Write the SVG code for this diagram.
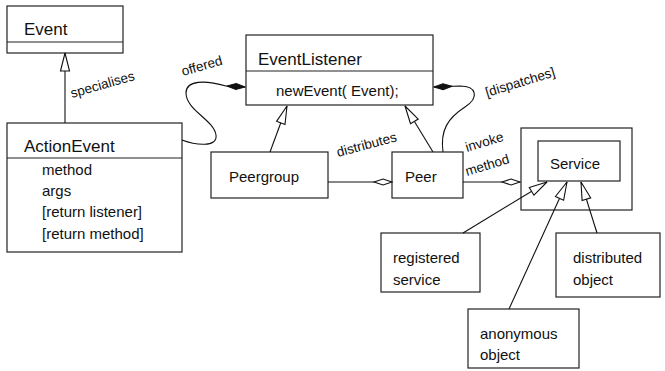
<svg xmlns="http://www.w3.org/2000/svg" width="665" height="371" viewBox="0 0 665 371">
  <style>
    .box { fill: #fff; stroke: #222; stroke-width: 1.2; }
    .frame { fill: none; stroke: #222; stroke-width: 1.2; }
    .div { stroke: #222; stroke-width: 1.2; }
    .edge { fill: none; stroke: #111; stroke-width: 1.1; }
    text { font-family: "Liberation Sans", Arial, sans-serif; fill: #111; }
    .title { font-size: 17px; }
    .attr { font-size: 15px; }
    .lbl { font-size: 13.5px; }
  </style>
  <defs>
    <marker id="gen" markerUnits="userSpaceOnUse" markerWidth="20" markerHeight="12" viewBox="0 0 20 12" refX="19" refY="6" orient="auto">
      <path d="M1,1.5 L19,6 L1,10.5 Z" fill="#fff" stroke="#111" stroke-width="1.1"/>
    </marker>
    <marker id="agg" markerUnits="userSpaceOnUse" markerWidth="20" markerHeight="10" viewBox="0 0 20 10" refX="19" refY="5" orient="auto">
      <path d="M1,5 L10,2 L19,5 L10,8 Z" fill="#fff" stroke="#111" stroke-width="1.1"/>
    </marker>
    <marker id="comp" markerUnits="userSpaceOnUse" markerWidth="20" markerHeight="10" viewBox="0 0 20 10" refX="19" refY="5" orient="auto">
      <path d="M1,5 L10,2 L19,5 L10,8 Z" fill="#111" stroke="#111" stroke-width="1"/>
    </marker>
  </defs>

  <g id="event">
    <rect class="box" x="7" y="6" width="116" height="47"/>
    <line class="div" x1="7" y1="42" x2="123" y2="42"/>
    <text class="title" x="24" y="35">Event</text>
  </g>

  <g id="action-event">
    <rect class="box" x="7" y="123" width="175" height="129"/>
    <line class="div" x1="7" y1="158" x2="182" y2="158"/>
    <text class="title" x="24" y="152">ActionEvent</text>
    <text class="attr" x="42" y="175">method</text>
    <text class="attr" x="42" y="196">args</text>
    <text class="attr" x="42" y="217">[return listener]</text>
    <text class="attr" x="42" y="239">[return method]</text>
  </g>

  <g id="event-listener">
    <rect class="box" x="246" y="35" width="187" height="70"/>
    <line class="div" x1="246" y1="71" x2="433" y2="71"/>
    <text class="title" x="258" y="65">EventListener</text>
    <text class="attr" x="276" y="96">newEvent( Event);</text>
  </g>

  <g id="peergroup">
    <rect class="box" x="211" y="152" width="117" height="46"/>
    <text class="attr" x="229" y="182">Peergroup</text>
  </g>

  <g id="peer">
    <rect class="box" x="392" y="152" width="71" height="46"/>
    <text class="attr" x="405" y="182">Peer</text>
  </g>

  <!-- outer frame is open so the generalisations can reach the inner class -->
  <g id="service">
    <rect class="frame" x="521" y="128" width="111" height="82"/>
    <rect class="box" x="538" y="141" width="82" height="40"/>
    <text class="attr" x="550" y="169">Service</text>
  </g>

  <g id="registered-service">
    <rect class="box" x="381" y="233" width="99" height="59"/>
    <text class="attr" x="393" y="263">registered</text>
    <text class="attr" x="393" y="285">service</text>
  </g>

  <g id="distributed-object">
    <rect class="box" x="556" y="233" width="104" height="64"/>
    <text class="attr" x="573" y="263">distributed</text>
    <text class="attr" x="573" y="285">object</text>
  </g>

  <g id="anonymous-object">
    <rect class="box" x="468" y="309" width="111" height="59"/>
    <text class="attr" x="480" y="339">anonymous</text>
    <text class="attr" x="480" y="360">object</text>
  </g>

  <!-- connectors -->
  <g id="connectors">
    <path class="edge" d="M65,123 L65,53" marker-end="url(#gen)"/>
    <path class="edge" d="M270,152 L287,106" marker-end="url(#gen)"/>
    <path class="edge" d="M433,152 L405,106" marker-end="url(#gen)"/>
    <path class="edge" d="M463,233 L547,182" marker-end="url(#gen)"/>
    <path class="edge" d="M509,309 L567,182" marker-end="url(#gen)"/>
    <path class="edge" d="M597,233 L581,182" marker-end="url(#gen)"/>
    <path class="edge" d="M328,182 L392,182" marker-end="url(#agg)"/>
    <path class="edge" d="M463,182 L520,182" marker-end="url(#agg)"/>
    <path class="edge" d="M182,140 C195,145 218,148 216,135 C214,120 186,110 186,93 C186,80 205,80 226,86 L245,87" marker-end="url(#comp)"/>
    <path class="edge" d="M443,152 C440,130 448,118 465,107 C480,97 476,86 460,86 L434,87" marker-end="url(#comp)"/>
    <text class="lbl" transform="translate(72,98) rotate(-16)">specialises</text>
    <text class="lbl" transform="translate(183,76) rotate(-16)">offered</text>
    <text class="lbl" transform="translate(338,157) rotate(-15)">distributes</text>
    <text class="lbl" transform="translate(487,97) rotate(-17)">[dispatches]</text>
    <text class="lbl" transform="translate(467,152) rotate(-17)">invoke</text>
    <text class="lbl" transform="translate(467,176) rotate(-17)">method</text>
  </g>
</svg>
